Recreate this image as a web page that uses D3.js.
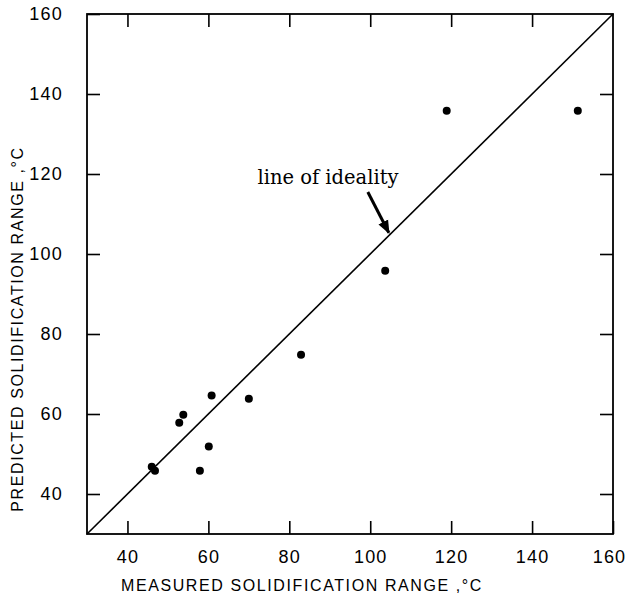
<!DOCTYPE html>
<html lang="en">
<head>
<meta charset="utf-8">
<title>Predicted vs measured solidification range</title>
<script src="https://d3js.org/d3.v7.min.js"></script>
<style>
  body { margin: 0; background: #fff; }
  svg text { fill: #000; }
</style>
</head>
<body>
<script>
// measured / predicted solidification range, deg C
var measured  = [46.0, 46.8, 52.8, 53.8, 57.9, 60.1, 60.8, 70.0, 82.9, 103.7, 118.9, 151.3];
var predicted = [46.8, 45.8, 57.8, 59.8, 45.8, 51.9, 64.6, 63.8, 74.8, 95.8, 135.8, 135.8];
var tickValues = [40, 60, 80, 100, 120, 140, 160];
var domainMin = 30, domainMax = 160;
var xTitle = "MEASURED SOLIDIFICATION RANGE ,\u00B0C";
var yTitle = "PREDICTED SOLIDIFICATION RANGE ,\u00B0C";
var noteText = "line of ideality";

var w = 626, h = 596;
var padLeft = 87, padRight = 613, padTop = 14, padBottom = 534;

var svg = d3.select("body").append("svg")
    .attr("width", w)
    .attr("height", h);

var xScale = d3.scaleLinear().domain([domainMin, domainMax]).range([padLeft, padRight]);
var yScale = d3.scaleLinear().domain([domainMin, domainMax]).range([padBottom, padTop]);

// frame with inward ticks on all four sides
function styleAxis(g) {
  g.select(".domain").remove();
  g.selectAll(".tick line").attr("stroke", "#000").attr("stroke-width", 1.6);
  g.selectAll(".tick text")
    .attr("font-family", "'Liberation Sans', Arial, sans-serif")
    .attr("font-size", "18px")
    .attr("letter-spacing", "1.2px");
}

svg.append("g")
  .attr("transform", "translate(0," + padBottom + ")")
  .call(d3.axisBottom(xScale).tickValues(tickValues).tickSizeInner(-13).tickPadding(16).tickFormat(d3.format("d")))
  .call(styleAxis);

// keep the last x label inside the page
svg.selectAll("g.tick").filter(function(d) { return d === domainMax; })
  .select("text").attr("dx", "-4px");

svg.append("g")
  .attr("transform", "translate(0," + padTop + ")")
  .call(d3.axisTop(xScale).tickValues(tickValues.slice(0, -1)).tickSizeInner(-13).tickFormat(""))
  .call(styleAxis);

svg.append("g")
  .attr("transform", "translate(" + padLeft + ",0)")
  .call(d3.axisLeft(yScale).tickValues(tickValues).tickSizeInner(-13).tickPadding(24).tickFormat(d3.format("d")))
  .call(styleAxis);

svg.append("g")
  .attr("transform", "translate(" + padRight + ",0)")
  .call(d3.axisRight(yScale).tickValues(tickValues.slice(0, -1)).tickSizeInner(-13).tickFormat(""))
  .call(styleAxis);

svg.append("rect")
  .attr("x", padLeft).attr("y", padTop)
  .attr("width", padRight - padLeft).attr("height", padBottom - padTop)
  .attr("fill", "none").attr("stroke", "#000").attr("stroke-width", 1.8);

// line of ideality
svg.append("line")
  .attr("x1", xScale(domainMin)).attr("y1", yScale(domainMin))
  .attr("x2", xScale(domainMax)).attr("y2", yScale(domainMax))
  .attr("stroke", "#000").attr("stroke-width", 1.6);

// data points
svg.selectAll("circle.pt")
  .data(d3.zip(measured, predicted))
  .enter().append("circle")
  .attr("class", "pt")
  .attr("cx", function(d) { return xScale(d[0]); })
  .attr("cy", function(d) { return yScale(d[1]); })
  .attr("r", 4)
  .attr("fill", "#000");

// annotation
svg.append("defs").append("marker")
  .attr("id", "arrow")
  .attr("viewBox", "0 0 10 10")
  .attr("refX", 9).attr("refY", 5)
  .attr("markerWidth", 4.5).attr("markerHeight", 4.5)
  .attr("orient", "auto")
  .append("path").attr("d", "M0,1 L10,5 L0,9 Z").attr("fill", "#000");

svg.append("line")
  .attr("x1", xScale(99.4)).attr("y1", yScale(115.5))
  .attr("x2", xScale(104.6)).attr("y2", yScale(105.3))
  .attr("stroke", "#000").attr("stroke-width", 3)
  .attr("marker-end", "url(#arrow)");

svg.append("text")
  .attr("x", 328)
  .attr("y", 184)
  .attr("text-anchor", "middle")
  .attr("font-family", "'DejaVu Serif', 'Liberation Serif', serif")
  .attr("font-size", "19.5px")
  .text(noteText);

// axis titles
svg.append("text")
  .attr("x", 302)
  .attr("y", 591)
  .attr("text-anchor", "middle")
  .attr("font-family", "'Liberation Sans', Arial, sans-serif")
  .attr("font-size", "16px")
  .attr("letter-spacing", "1.6px")
  .text(xTitle);

svg.append("text")
  .attr("transform", "translate(23," + 329 + ") rotate(-90)")
  .attr("text-anchor", "middle")
  .attr("font-family", "'Liberation Sans', Arial, sans-serif")
  .attr("font-size", "16px")
  .attr("letter-spacing", "1.6px")
  .text(yTitle);
</script>
</body>
</html>
